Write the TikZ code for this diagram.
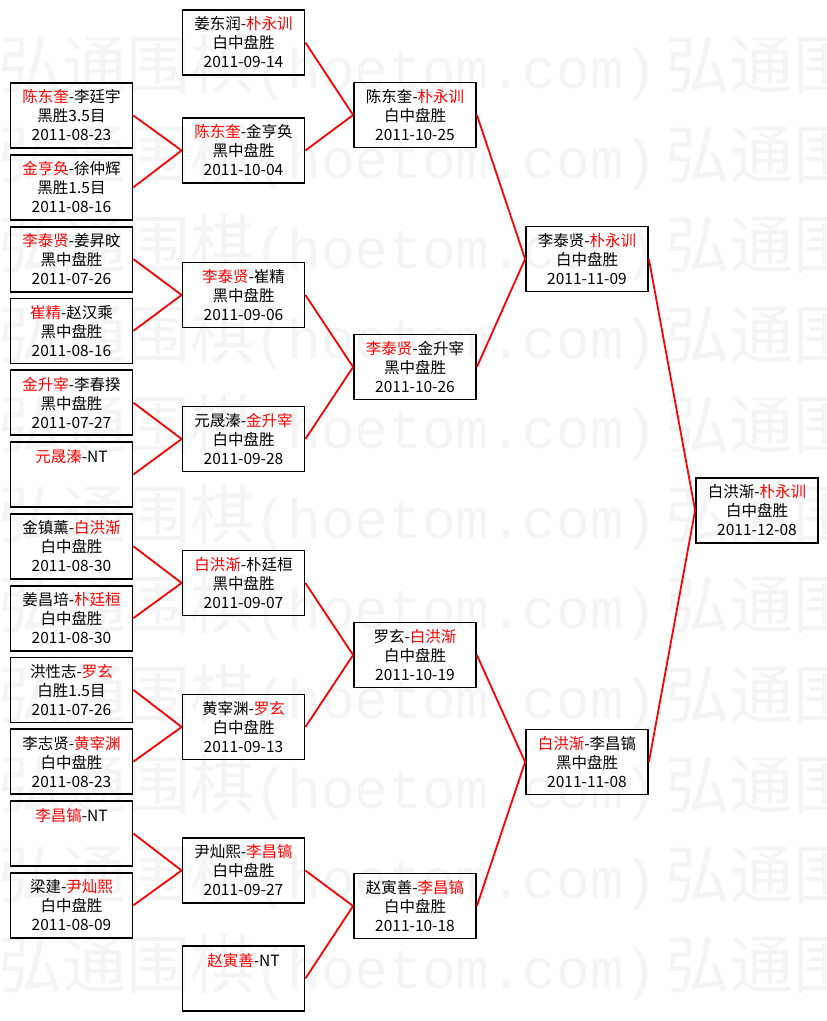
\documentclass[tikz,border=0pt]{standalone}
\usepackage{fontspec}
\setmainfont{Noto Sans CJK SC}
\newfontfamily\markfont{Liberation Mono}
\usepackage{xcolor}
\usepackage{tikz}
\newcommand{\winner}[1]{\textcolor{red}{#1}}

\begin{document}
\begin{tikzpicture}[x=1pt, y=-1pt,
    game/.style={draw, line width=1.8pt, minimum width=122pt, minimum height=65pt,
        inner sep=0pt, align=center, font=\fontsize{15.5pt}{19pt}\selectfont},
    link/.style={red, line width=1.8pt}]
    \useasboundingbox (0,0) rectangle (827,1021);

    % Watermark
    \foreach \r in {0,...,10}
        \foreach \c in {0,1}
            \node[anchor=west, inner sep=0pt, text=black!4] (mark-\r-\c) at (667*\c-2, 67+90*\r)
                {\fontsize{64pt}{64pt}\selectfont 弘通围棋\markfont\fontsize{56pt}{64pt}\selectfont(hoetom.com)};

    % Round 1
    \node[game] (a1) at (71.5,115.5) {\winner{陈东奎}-李廷宇\\黑胜3.5目\\2011-08-23};
    \node[game] (a2) at (71.5,187.3) {\winner{金亨奂}-徐仲辉\\黑胜1.5目\\2011-08-16};
    \node[game] (a3) at (71.5,259.1) {\winner{李泰贤}-姜昇旼\\黑中盘胜\\2011-07-26};
    \node[game] (a4) at (71.5,330.9) {\winner{崔精}-赵汉乘\\黑中盘胜\\2011-08-16};
    \node[game] (a5) at (71.5,402.7) {\winner{金升宰}-李春揆\\黑中盘胜\\2011-07-27};
    \node[game] (a6) at (71.5,474.5) {\winner{元晟溱}-NT\\~\\~};
    \node[game] (a7) at (71.5,546.3) {金镇薰-\winner{白洪渐}\\白中盘胜\\2011-08-30};
    \node[game] (a8) at (71.5,618.1) {姜昌培-\winner{朴廷桓}\\白中盘胜\\2011-08-30};
    \node[game] (a9) at (71.5,689.9) {洪性志-\winner{罗玄}\\白胜1.5目\\2011-07-26};
    \node[game] (a10) at (71.5,761.7) {李志贤-\winner{黄宰渊}\\白中盘胜\\2011-08-23};
    \node[game] (a11) at (71.5,833.5) {\winner{李昌镐}-NT\\~\\~};
    \node[game] (a12) at (71.5,905.3) {梁建-\winner{尹灿熙}\\白中盘胜\\2011-08-09};

    % Round 2
    \node[game] (b1) at (243.5,42.5) {姜东润-\winner{朴永训}\\白中盘胜\\2011-09-14};
    \node[game] (b2) at (243.5,150.5) {\winner{陈东奎}-金亨奂\\黑中盘胜\\2011-10-04};
    \node[game] (b3) at (243.5,295) {\winner{李泰贤}-崔精\\黑中盘胜\\2011-09-06};
    \node[game] (b4) at (243.5,439) {元晟溱-\winner{金升宰}\\白中盘胜\\2011-09-28};
    \node[game] (b5) at (243.5,583) {\winner{白洪渐}-朴廷桓\\黑中盘胜\\2011-09-07};
    \node[game] (b6) at (243.5,727) {黄宰渊-\winner{罗玄}\\白中盘胜\\2011-09-13};
    \node[game] (b7) at (243.5,870.5) {尹灿熙-\winner{李昌镐}\\白中盘胜\\2011-09-27};
    \node[game] (b8) at (243.5,978.5) {\winner{赵寅善}-NT\\~\\~};

    % Round 3
    \node[game] (c1) at (415,115) {陈东奎-\winner{朴永训}\\白中盘胜\\2011-10-25};
    \node[game] (c2) at (415,367) {\winner{李泰贤}-金升宰\\黑中盘胜\\2011-10-26};
    \node[game] (c3) at (415,655) {罗玄-\winner{白洪渐}\\白中盘胜\\2011-10-19};
    \node[game] (c4) at (415,906) {赵寅善-\winner{李昌镐}\\白中盘胜\\2011-10-18};

    % Semifinals and final
    \node[game] (d1) at (587,259) {李泰贤-\winner{朴永训}\\白中盘胜\\2011-11-09};
    \node[game] (d2) at (587,762) {\winner{白洪渐}-李昌镐\\黑中盘胜\\2011-11-08};
    \node[game] (e1) at (757,510.5) {白洪渐-\winner{朴永训}\\白中盘胜\\2011-12-08};

    % Links
    \draw[link] (a1.east) -- (b2.west) (a2.east) -- (b2.west);
    \draw[link] (a3.east) -- (b3.west) (a4.east) -- (b3.west);
    \draw[link] (a5.east) -- (b4.west) (a6.east) -- (b4.west);
    \draw[link] (a7.east) -- (b5.west) (a8.east) -- (b5.west);
    \draw[link] (a9.east) -- (b6.west) (a10.east) -- (b6.west);
    \draw[link] (a11.east) -- (b7.west) (a12.east) -- (b7.west);
    \draw[link] (b1.east) -- (c1.west) (b2.east) -- (c1.west);
    \draw[link] (b3.east) -- (c2.west) (b4.east) -- (c2.west);
    \draw[link] (b5.east) -- (c3.west) (b6.east) -- (c3.west);
    \draw[link] (b7.east) -- (c4.west) (b8.east) -- (c4.west);
    \draw[link] (c1.east) -- (d1.west) (c2.east) -- (d1.west);
    \draw[link] (c3.east) -- (d2.west) (c4.east) -- (d2.west);
    \draw[link] (d1.east) -- (e1.west) (d2.east) -- (e1.west);
\end{tikzpicture}
\end{document}
